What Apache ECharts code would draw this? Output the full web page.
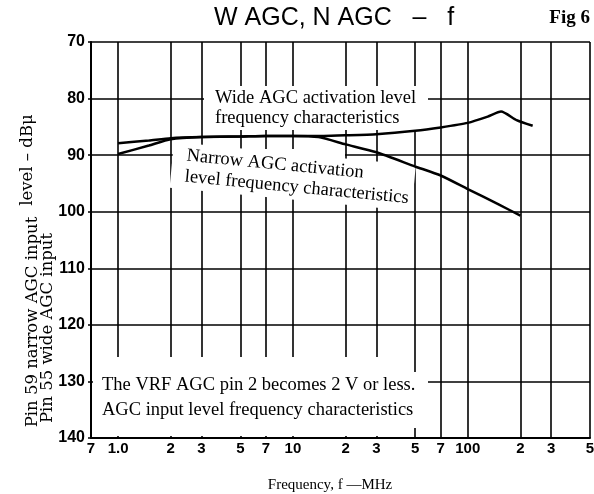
<!DOCTYPE html>
<html>
<head>
<meta charset="utf-8">
<script src="https://cdn.jsdelivr.net/npm/echarts@6/dist/echarts.min.js"></script>
<style>
html,body{margin:0;padding:0;background:#fff;}
#c{width:594px;height:494px;}
</style>
</head>
<body>
<div id="c"></div>
<script>
// ---- data ----
const titleText = 'W AGC, N AGC   \u2013   f';
const figLabel = 'Fig 6';
const xAxisName = 'Frequency, f \u2014MHz';
const yNameLevel = 'level \u2013 dB\u03bc';
const yNamePin59 = 'Pin 59 narrow AGC input';
const yNamePin55 = 'Pin 55 wide AGC input';
const wideNote = 'Wide AGC activation level\nfrequency characteristics';
const narrowNote = 'Narrow AGC activation\nlevel frequency characteristics';
const bottomNote = 'The VRF AGC pin 2 becomes 2 V or less.\nAGC input level frequency characteristics';

const xTicks = [0.7, 1, 2, 3, 5, 7, 10, 20, 30, 50, 70, 100, 200, 300, 500];
const xTickLabels = ['7', '1.0', '2', '3', '5', '7', '10', '2', '3', '5', '7', '100', '2', '3', '5'];

const wideFreq  = [1, 1.5, 2, 3, 5, 7, 10, 15, 20, 30, 50, 70, 100, 130, 155, 190, 235];
const wideLevel = [87.9, 87.4, 87.0, 86.8, 86.7, 86.6, 86.6, 86.6, 86.5, 86.3, 85.7, 85.1, 84.3, 83.2, 82.3, 83.8, 84.8];

const narrowFreq  = [1, 1.5, 2, 3, 5, 7, 10, 14, 20, 30, 50, 70, 100, 150, 200];
const narrowLevel = [89.8, 88.3, 87.2, 86.8, 86.7, 86.6, 86.6, 86.8, 88.1, 89.5, 92.0, 93.6, 96.0, 98.7, 100.7];

// ---- chart ----
const chart = echarts.init(document.getElementById('c'), null, {renderer: 'canvas'});
const serif = '"Liberation Serif", "Times New Roman", serif';
const sans = '"Liberation Sans", Arial, sans-serif';
const wide = '"DejaVu Serif", serif';

function txt(text, x, y, font, extra) {
  return Object.assign({
    type: 'text', x: x, y: y, z: 2, silent: true,
    style: Object.assign({text: text, font: font, fill: '#000'}, (extra && extra.style) || {})
  }, extra && extra.el || {});
}
function mask(x, y, w, h) {
  return {type: 'rect', z: 2, silent: true, shape: {x: x, y: y, width: w, height: h}, style: {fill: '#fff'}};
}

const option = {
  animation: false,
  backgroundColor: '#fff',
  grid: {left: 91, right: 4, top: 42, bottom: 56, containLabel: false, outerBoundsMode: 'none'},
  xAxis: {
    type: 'log', logBase: 10, min: 0.7, max: 500,
    axisLine: {show: true, lineStyle: {color: '#000', width: 2}},
    axisTick: {show: false}, axisLabel: {show: false},
    splitLine: {show: false}, minorTick: {show: false}, minorSplitLine: {show: false}
  },
  yAxis: {
    type: 'value', inverse: true, min: 70, max: 140, interval: 10,
    axisLine: {show: true, lineStyle: {color: '#000', width: 2}},
    axisTick: {show: true, length: 3, lineStyle: {color: '#000', width: 1.5}},
    axisLabel: {color: '#000', fontFamily: sans, fontSize: 16, fontWeight: 'bold', margin: 6},
    splitLine: {show: true, lineStyle: {color: '#000', width: 1.6}}
  },
  series: [
    {
      name: 'grid', type: 'line', data: [], silent: true, z: 1,
      markLine: {
        silent: true, z: 1, animation: false, symbol: ['none', 'none'],
        lineStyle: {color: '#000', width: 1.6, type: 'solid'},
        emphasis: {disabled: true},
        label: {
          show: true, position: 'end', distance: 3, color: '#000',
          fontFamily: sans, fontSize: 15, fontWeight: 'bold',
          formatter: function (p) { return xTickLabels[p.dataIndex]; }
        },
        data: xTicks.map(function (v) { return {xAxis: v}; })
      }
    },
    {
      name: 'Wide AGC', type: 'line', z: 3, symbol: 'none', smooth: 0.2,
      lineStyle: {color: '#000', width: 2.5},
      data: wideFreq.map(function (f, i) { return [f, wideLevel[i]]; })
    },
    {
      name: 'Narrow AGC', type: 'line', z: 3, symbol: 'none', smooth: 0.2,
      lineStyle: {color: '#000', width: 2.5},
      data: narrowFreq.map(function (f, i) { return [f, narrowLevel[i]]; })
    }
  ],
  graphic: {
    elements: [
      mask(204, 86, 224, 44),
      mask(182, 149, 163, 10),
      mask(93, 357, 312, 79),
      mask(405, 372, 23, 56),
      txt(titleText, 214, 18, '25px ' + sans, {style: {align: 'left', verticalAlign: 'middle'}}),
      txt(figLabel, 590, 18, 'bold 19px ' + serif, {style: {align: 'right', verticalAlign: 'middle'}}),
      txt(xAxisName, 330, 485, '15px ' + serif, {style: {align: 'center', verticalAlign: 'middle'}}),
      txt(yNameLevel, 28, 160, '16.5px ' + wide, {style: {align: 'center', verticalAlign: 'middle'}, el: {rotation: Math.PI / 2}}),
      txt(yNamePin59, 33, 322, '16.5px ' + wide, {style: {align: 'center', verticalAlign: 'middle'}, el: {rotation: Math.PI / 2}}),
      txt(yNamePin55, 48, 328, '16.5px ' + wide, {style: {align: 'center', verticalAlign: 'middle'}, el: {rotation: Math.PI / 2}}),
      txt(wideNote, 215, 88, '18.5px ' + serif, {style: {align: 'left', verticalAlign: 'top', lineHeight: 20}}),
      txt(narrowNote, 174, 142, '18.5px ' + serif, {style: {align: 'left', verticalAlign: 'top', lineHeight: 21, backgroundColor: '#fff', padding: [2, 4, 2, 14]}, el: {rotation: -5.5 * Math.PI / 180}}),
      txt(bottomNote, 102, 373, '18.5px ' + serif, {style: {align: 'left', verticalAlign: 'top', lineHeight: 25}})
    ]
  }
};
chart.setOption(option);
</script>
</body>
</html>
